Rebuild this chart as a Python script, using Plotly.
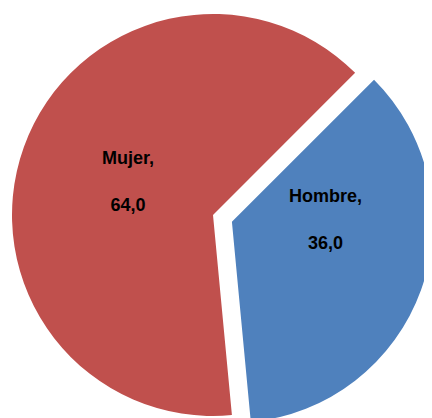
import plotly.graph_objects as go

categories = ["Hombre", "Mujer"]
values = [36.0, 64.0]
value_labels = ["36,0", "64,0"]
colors = ["#4F81BD", "#C0504D"]
label_pos = [(0.734, 0.495), (0.278, 0.586)]  # paper coords of the data labels

W, H = 432, 418
CLEAR = "rgba(0,0,0,0)"
R = 201
CX, CY = 205, 207          # centre of the main pie (figure pixels)
PULL = 0.1                 # explode distance as fraction of radius


def box(cx, cy, r):
    return dict(x=[(cx - r) / W, (cx + r) / W], y=[1 - (cy + r) / H, 1 - (cy - r) / H])


import math
mid = math.radians(45 + 360 * values[0] / sum(values) / 2)
hx, hy = CX + PULL * R * math.sin(mid), CY - PULL * R * math.cos(mid)

common = dict(labels=categories, values=values, sort=False, direction="clockwise",
              rotation=45, textinfo="none", showlegend=False, hoverinfo="skip")

fig = go.Figure()
fig.add_trace(go.Pie(marker=dict(colors=[CLEAR, colors[1]], line=dict(width=0)),
                     domain=box(CX, CY, R), **common))
fig.add_trace(go.Pie(marker=dict(colors=[colors[0], CLEAR], line=dict(width=0)),
                     domain=box(hx, hy, R), **common))

for cat, val, (px, py) in zip(categories, value_labels, label_pos):
    fig.add_annotation(x=px, y=py, xref="paper", yref="paper", showarrow=False,
                       text=f"{cat},<br><br>{val}", xanchor="center", yanchor="middle",
                       font=dict(family="Liberation Sans, Arial, sans-serif", size=18,
                                 color="black", weight="bold"))

fig.update_layout(width=W, height=H, margin=dict(l=0, r=0, t=0, b=0),
                  paper_bgcolor="white", plot_bgcolor="white")
fig.write_html("out.html")
